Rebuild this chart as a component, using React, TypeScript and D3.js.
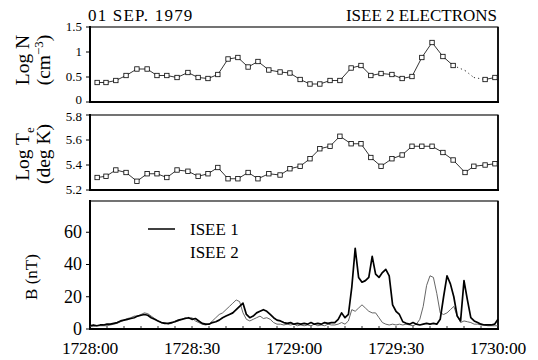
import React from "react";
import * as d3 from "d3";

// Electron sample times (seconds after 1728:00 UT), one per ~3 s spin
const sampleTimes = [
  2.1, 4.7, 7.6, 10.6, 13.8, 16.8, 19.7, 22.6, 25.6, 28.8, 31.8, 34.7, 37.6, 40.6,
  43.5, 46.5, 49.4, 52.6, 55.9, 58.8, 61.8, 64.7, 67.6, 70.6, 73.5, 76.8, 79.7,
  82.6, 85.6, 88.8, 91.8, 94.7, 97.6, 100.6, 103.8, 106.8, 110.3, 112.9, 116.2, 119.1,
];

// Log electron density (cm^-3)
const logN = [
  0.39, 0.39, 0.43, 0.53, 0.66, 0.66, 0.53, 0.53, 0.49, 0.59, 0.49, 0.47, 0.55, 0.86,
  0.89, 0.7, 0.81, 0.64, 0.6, 0.58, 0.45, 0.36, 0.36, 0.43, 0.43, 0.68, 0.73, 0.53,
  0.57, 0.55, 0.47, 0.51, 0.89, 1.19, 0.91, 0.73, 0.63, 0.49, 0.45, 0.49,
];
// samples shown only as a dotted connection (no symbol)
const logNDotted = [36, 37];

// Log electron temperature (deg K)
const logTe = [
  5.3, 5.31, 5.36, 5.34, 5.27, 5.33, 5.33, 5.3, 5.36, 5.35, 5.31, 5.33, 5.38, 5.29,
  5.29, 5.34, 5.29, 5.33, 5.32, 5.37, 5.39, 5.45, 5.53, 5.55, 5.63, 5.57, 5.57, 5.46,
  5.39, 5.45, 5.48, 5.55, 5.55, 5.55, 5.5, 5.44, 5.34, 5.39, 5.4, 5.41,
];

// Magnetic field magnitude, 1 s samples from 1728:00 to 1730:00
const bTimes = d3.range(0, 121);
const bIsee1 = [
  2, 2.5, 2, 2.5, 2.5, 3, 3, 3.5, 4, 5, 5.5, 6, 6.5, 7, 8, 8.5, 9, 8.5, 7, 6,
  5, 4, 3.5, 3.5, 4, 4.5, 5.5, 6, 6.5, 7, 6, 6.5, 5, 3.5, 3, 3, 4, 4.5, 5.5, 7,
  8, 9, 10, 12, 14, 16, 9, 7, 8, 10, 11, 12, 11, 9, 7, 5.5, 5, 4, 3.5, 4,
  3, 3.5, 3, 3.5, 3, 4, 3, 3.5, 3, 4, 3.5, 4, 4, 6, 10, 7, 9, 26, 50, 32,
  29, 30, 32, 45, 34, 32, 35, 37, 33, 15, 11, 9, 4.5, 3.5, 3, 4, 3, 2.5, 3, 3.5,
  3, 3.5, 3, 6, 20, 33, 28, 20, 8, 5, 30, 18, 7, 5, 4, 3, 2.5, 2.5, 2.5, 3,
  6,
];
const bIsee2 = [
  1.5, 1.5, 2, 2, 2, 2, 2.5, 3, 3.5, 4.5, 5.5, 6.5, 7, 8, 8, 9, 10, 9.5, 8, 6.5,
  5, 4, 4, 3, 3.5, 5, 5, 6, 7, 6.5, 7, 5, 4, 3, 2.5, 3, 5, 7, 9, 10,
  12, 14, 16, 18, 17, 10, 6, 5, 6, 7, 8, 6.5, 7, 6, 4, 3, 3, 2.5, 3, 2.5,
  3, 2, 2.5, 2, 2.5, 2, 3, 2, 2.5, 2, 3, 2.5, 2.5, 3, 4, 3, 5, 12, 11, 13,
  15, 13, 11, 10, 10, 7, 4, 3, 2.5, 3, 2.5, 3, 2.5, 3, 2.5, 2, 3, 6, 14, 27,
  33, 32, 22, 10, 9, 10, 12, 14, 8, 4, 5, 4.5, 4, 3, 3, 2.5, 2.5, 2, 2, 2,
  2,
];

const timeTicks = [0, 30, 60, 90, 120];
const timeTickLabels = ["1728:00", "1728:30", "1729:00", "1729:30", "1730:00"];
const nTicks = [0, 0.5, 1, 1.5];
const nTickLabels = ["0", "0.5", "1", "1.5"];
const teTicks = [5.2, 5.4, 5.6, 5.8];
const teTickLabels = ["5.2", "5.4", "5.6", "5.8"];
const bTicks = [0, 20, 40, 60];
const bTickLabels = ["0", "20", "40", "60"];

const FONT = "Liberation Serif, Times New Roman, Times, serif";

const x = d3.scaleLinear().domain([0, 120]).range([90, 498]);
const yN = d3.scaleLinear().domain([0, 1.5]).range([102, 27]);
const yTe = d3.scaleLinear().domain([5.2, 5.8]).range([190, 115]);
const yB = d3.scaleLinear().domain([0, 80]).range([329, 200]);

function Frame({ top, bottom }: { top: number; bottom: number }) {
  const [l, r] = x.range();
  return (
    <g fill="none" stroke="#000">
      <rect x={l} y={top} width={r - l} height={bottom - top} strokeWidth={1.1} />
      <line x1={l} x2={l} y1={top - 1} y2={bottom + 1} strokeWidth={2} />
      <line x1={l - 1} x2={r + 1} y1={bottom} y2={bottom} strokeWidth={2} />
      <line x1={r} x2={r} y1={top} y2={bottom} strokeWidth={1.6} />
    </g>
  );
}

// left-hand tick marks and labels; the end labels can be nudged inward so
// stacked panels' labels don't collide
function YTicks({
  scale,
  ticks,
  labels,
  size,
  nudgeBottom = 0,
  nudgeTop = 0,
}: {
  scale: d3.ScaleLinear<number, number>;
  ticks: number[];
  labels: string[];
  size: number;
  nudgeBottom?: number;
  nudgeTop?: number;
}) {
  const l = x.range()[0];
  return (
    <g>
      {ticks.map((t, i) => {
        const shift = i === 0 ? -nudgeBottom : i === ticks.length - 1 ? nudgeTop : 0;
        return (
          <g key={i}>
            <line x1={l - 4} x2={l} y1={scale(t)} y2={scale(t)} stroke="#000" strokeWidth={1} />
            <text
              x={l - 8}
              y={scale(t) + shift}
              dy="0.33em"
              textAnchor="end"
              fontFamily={FONT}
              fontSize={size}
            >
              {labels[i]}
            </text>
          </g>
        );
      })}
    </g>
  );
}

function SymbolSeries({
  values,
  scale,
  dotted,
}: {
  values: number[];
  scale: d3.ScaleLinear<number, number>;
  dotted: number[];
}) {
  const pts = values.map((v, i) => [x(sampleTimes[i]), scale(v)] as [number, number]);
  const segs = [];
  for (let i = 0; i < pts.length - 1; i++) {
    const dot = dotted.includes(i) || dotted.includes(i + 1);
    segs.push(
      <line
        key={i}
        x1={pts[i][0]}
        y1={pts[i][1]}
        x2={pts[i + 1][0]}
        y2={pts[i + 1][1]}
        stroke="#000"
        strokeWidth={0.8}
        strokeDasharray={dot ? "1.2 3" : undefined}
      />
    );
  }
  const s = 4.4;
  return (
    <g>
      {segs}
      {pts.map((p, i) =>
        dotted.includes(i) ? null : (
          <rect
            key={i}
            x={p[0] - s / 2}
            y={p[1] - s / 2}
            width={s}
            height={s}
            fill="#fff"
            stroke="#000"
            strokeWidth={0.8}
          />
        )
      )}
    </g>
  );
}

export default function App() {
  const lineB = d3
    .line<number>()
    .x((_, i) => x(bTimes[i]))
    .y((d) => yB(d));
  const minorTicks = d3.range(5, 120, 5);

  return (
    <svg
      width={538}
      height={360}
      style={{ position: "fixed", left: 0, top: 0, background: "#fff" }}
      fontFamily={FONT}
    >
      <rect width={538} height={360} fill="#fff" />

      {/* headings */}
      <text x={88} y={21} fontFamily={FONT} fontSize={17} letterSpacing={1.2}>
        01 SEP. 1979
      </text>
      <text x={497} y={21} textAnchor="end" fontFamily={FONT} fontSize={17}>
        ISEE 2 ELECTRONS
      </text>

      {/* density panel */}
      <Frame top={yN.range()[1]} bottom={yN.range()[0]} />
      <YTicks scale={yN} ticks={nTicks} labels={nTickLabels} size={13} nudgeBottom={2.5} />
      <SymbolSeries values={logN} scale={yN} dotted={logNDotted} />
      <text transform="translate(29,60) rotate(-90)" textAnchor="middle" fontFamily={FONT} fontSize={19.5}>
        Log N
      </text>
      <text transform="translate(50,60) rotate(-90)" textAnchor="middle" fontFamily={FONT} fontSize={19.5}>
        (cm
        <tspan dy={-7} fontSize={13}>
          −3
        </tspan>
        <tspan dy={7}>)</tspan>
      </text>

      {/* temperature panel */}
      <Frame top={yTe.range()[1]} bottom={yTe.range()[0]} />
      <YTicks scale={yTe} ticks={teTicks} labels={teTickLabels} size={13} nudgeTop={2} />
      <SymbolSeries values={logTe} scale={yTe} dotted={[]} />
      <text transform="translate(29,154) rotate(-90)" textAnchor="middle" fontFamily={FONT} fontSize={19.5}>
        Log T
        <tspan dy={5} fontSize={13}>
          e
        </tspan>
      </text>
      <text transform="translate(50,154) rotate(-90)" textAnchor="middle" fontFamily={FONT} fontSize={19.5}>
        (deg K)
      </text>

      {/* magnetic field panel */}
      <Frame top={yB.range()[1] + 1} bottom={yB.range()[0]} />
      <g stroke="#000" strokeWidth={0.8}>
        {minorTicks.map((t) => (
          <line key={t} x1={x(t)} x2={x(t)} y1={yB(0)} y2={yB(0) - 3} />
        ))}
      </g>
      <YTicks scale={yB} ticks={bTicks} labels={bTickLabels} size={18} />
      <path d={lineB(bIsee2) ?? ""} fill="none" stroke="#555" strokeWidth={0.9} />
      <path
        d={lineB(bIsee1) ?? ""}
        fill="none"
        stroke="#000"
        strokeWidth={1.7}
        strokeLinejoin="round"
      />
      <text transform="translate(37,277) rotate(-90)" textAnchor="middle" fontFamily={FONT} fontSize={17}>
        B (nT)
      </text>

      {/* legend */}
      <line x1={148} x2={175} y1={229} y2={229} stroke="#000" strokeWidth={1.5} />
      <text x={190} y={235} fontFamily={FONT} fontSize={17}>
        ISEE 1
      </text>
      <text x={190} y={258} fontFamily={FONT} fontSize={17}>
        ISEE 2
      </text>

      {/* time axis labels */}
      {timeTicks.map((t, i) => (
        <text
          key={t}
          x={x(t)}
          y={354}
          textAnchor="middle"
          fontFamily={FONT}
          fontSize={17.5}
          letterSpacing={-0.2}
        >
          {timeTickLabels[i]}
        </text>
      ))}
    </svg>
  );
}
